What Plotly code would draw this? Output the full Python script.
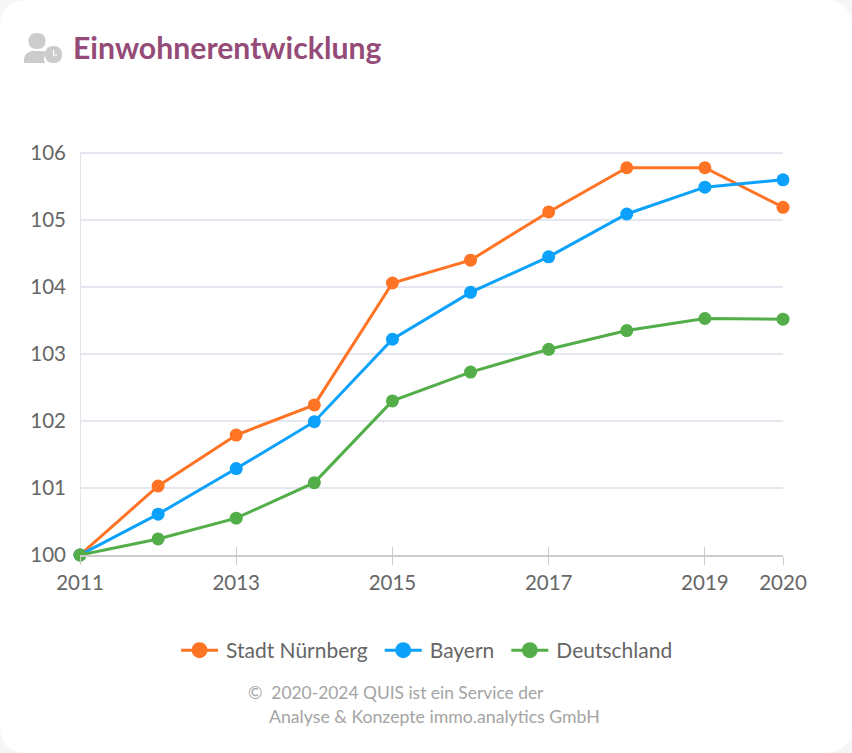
import plotly.graph_objects as go

years = [2011, 2012, 2013, 2014, 2015, 2016, 2017, 2018, 2019, 2020]
nuernberg = [100, 101.03, 101.79, 102.24, 104.06, 104.40, 105.12, 105.78, 105.78, 105.19]
bayern = [100, 100.61, 101.29, 101.99, 103.22, 103.92, 104.45, 105.09, 105.49, 105.60]
deutschland = [100, 100.24, 100.55, 101.08, 102.30, 102.73, 103.07, 103.35, 103.53, 103.52]
tick_years = [2011, 2013, 2015, 2017, 2019, 2020]
y_ticks = [100, 101, 102, 103, 104, 105, 106]

W, H = 852, 753
L, R, T, B = 80, 783, 151, 555
FONT = "Lato, 'Open Sans', sans-serif"
TEXT = "#666666"

fig = go.Figure()
for name, vals, col in [("Stadt Nürnberg", nuernberg, "#ff7324"),
                        ("Bayern", bayern, "#0ca2fb"),
                        ("Deutschland", deutschland, "#53ae49")]:
    fig.add_trace(go.Scatter(x=years, y=vals, name=name, mode="lines+markers", showlegend=False,
                             line=dict(color=col, width=3), marker=dict(color=col, size=13),
                             cliponaxis=False))
    # legend entry with the larger key marker of the reference
    fig.add_trace(go.Scatter(x=[None], y=[None], name=name, mode="lines+markers",
                             line=dict(color=col, width=3), marker=dict(color=col, size=18)))
# invisible carrier so the overlaid axis (upper half of the ticks) is drawn
fig.add_trace(go.Scatter(x=years, y=nuernberg, xaxis="x2", mode="lines", showlegend=False,
                         line=dict(width=0), opacity=0, hoverinfo="skip"))

def px(x): return (x - L) / (R - L)
def py(y): return (B - y) / (B - T)

shapes = [
    dict(type="path", xref="paper", yref="paper", layer="below",
         path=f"M {px(28)} {py(0)} L {px(824)} {py(0)} Q {px(852)} {py(0)} {px(852)} {py(28)} "
              f"L {px(852)} {py(725)} Q {px(852)} {py(753)} {px(824)} {py(753)} "
              f"L {px(28)} {py(753)} Q {px(0)} {py(753)} {px(0)} {py(725)} "
              f"L {px(0)} {py(28)} Q {px(0)} {py(0)} {px(28)} {py(0)} Z",
         fillcolor="#ffffff", line=dict(width=0)),
    # y axis line, from the lowest to the highest tick
    dict(type="line", xref="x", yref="y", x0=years[0], x1=years[0], y0=y_ticks[0], y1=y_ticks[-1],
         layer="below", line=dict(color="#cccccc", width=1)),
    dict(type="path", xref="paper", yref="paper",
         path=f"M {px(24)} {py(63)} L {px(24)} {py(59)} Q {px(25)} {py(52)} {px(32)} {py(51)} "
              f"L {px(41)} {py(51)} Q {px(46)} {py(51)} {px(48)} {py(53)} "
              f"Q {px(42)} {py(57)} {px(45)} {py(63)} Z",
         fillcolor="#cccccc", line=dict(width=0)),
    dict(type="path", xref="paper", yref="paper",
         path=f"M {px(37)} {py(33)} Q {px(45.5)} {py(33)} {px(45.5)} {py(41)} "
              f"Q {px(45.5)} {py(49)} {px(37)} {py(49)} Q {px(28.5)} {py(49)} {px(28.5)} {py(41)} "
              f"Q {px(28.5)} {py(33)} {px(37)} {py(33)} Z",
         fillcolor="#cccccc", line=dict(width=0)),
    dict(type="path", xref="paper", yref="paper",
         path=f"M {px(53.5)} {py(46)} Q {px(62)} {py(46)} {px(62)} {py(54.5)} "
              f"Q {px(62)} {py(63)} {px(53.5)} {py(63)} Q {px(45)} {py(63)} {px(45)} {py(54.5)} "
              f"Q {px(45)} {py(46)} {px(53.5)} {py(46)} Z",
         fillcolor="#cccccc", line=dict(width=0)),
    dict(type="path", xref="paper", yref="paper",
         path=f"M {px(53.5)} {py(50)} L {px(53.5)} {py(55)} L {px(57)} {py(55)}",
         line=dict(color="#ffffff", width=1.2)),
]

fig.update_layout(
    width=W, height=H, autosize=False,
    paper_bgcolor="#f6f6f6", plot_bgcolor="rgba(0,0,0,0)",
    margin=dict(l=L, r=W - R, t=T, b=H - B, pad=0),
    font=dict(family=FONT, color=TEXT, size=20),
    shapes=shapes,
    xaxis=dict(range=[2011, 2020], tickmode="array", tickvals=tick_years,
               ticks="outside", ticklen=8, tickwidth=1, tickcolor="#cccccc",
               showgrid=False, zeroline=False, showline=True, linecolor="#cccccc", linewidth=2,
               tickfont=dict(size=20.5, color=TEXT)),
    xaxis2=dict(range=[2011, 2020], overlaying="x", side="bottom", tickmode="array",
                tickvals=tick_years, ticks="inside", ticklen=8, tickwidth=1, tickcolor="#cccccc",
                showticklabels=False, showgrid=False, zeroline=False, showline=False),
    yaxis=dict(range=[100, 106.03], tickmode="array", tickvals=y_ticks,
               showgrid=True, gridcolor="#e4e7ee", gridwidth=1.5, zeroline=False,
               showline=False, ticks="",
               ticklabelstandoff=13, tickfont=dict(size=20.5, color=TEXT)),
    legend=dict(orientation="h", x=0.4986, xanchor="center", y=py(630), yanchor="top",
                itemwidth=47, font=dict(size=21, color=TEXT), bgcolor="rgba(0,0,0,0)",
                traceorder="normal"),
    annotations=[
        dict(text="<b>Einwohnerentwicklung</b>", xref="paper", yref="paper", x=px(74), y=py(47),
             xanchor="left", yanchor="middle", showarrow=False, xshift=-3,
             font=dict(size=30.2, color="#954b78", family=FONT)),
        dict(text="©  2020-2024 QUIS ist ein Service der", xref="paper", yref="paper",
             x=px(248), y=py(692), xanchor="left", yanchor="middle", showarrow=False, xshift=-2,
             font=dict(size=17.4, color="#a4a4a4", family=FONT)),
        dict(text="Analyse &amp; Konzepte immo.analytics GmbH", xref="paper", yref="paper",
             x=px(269), y=py(716), xanchor="left", yanchor="middle", showarrow=False, xshift=-2,
             font=dict(size=17.7, color="#a4a4a4", family=FONT)),
    ],
    hovermode=False,
)
post = """
document.body.style.margin='0';document.body.style.overflow='hidden';
document.querySelectorAll('.legendtext').forEach(function(t){
  t.setAttribute('x', parseFloat(t.getAttribute('x')) - 7);
});
document.querySelectorAll('.legend .js-line').forEach(function(p){
  p.setAttribute('d', 'M5,0h37');
});
document.querySelectorAll('.legend .scatterpts').forEach(function(p){
  p.setAttribute('transform', 'translate(23.5,0)');
});
"""
fig.write_html("out.html", config={"displayModeBar": False}, post_script=post)
